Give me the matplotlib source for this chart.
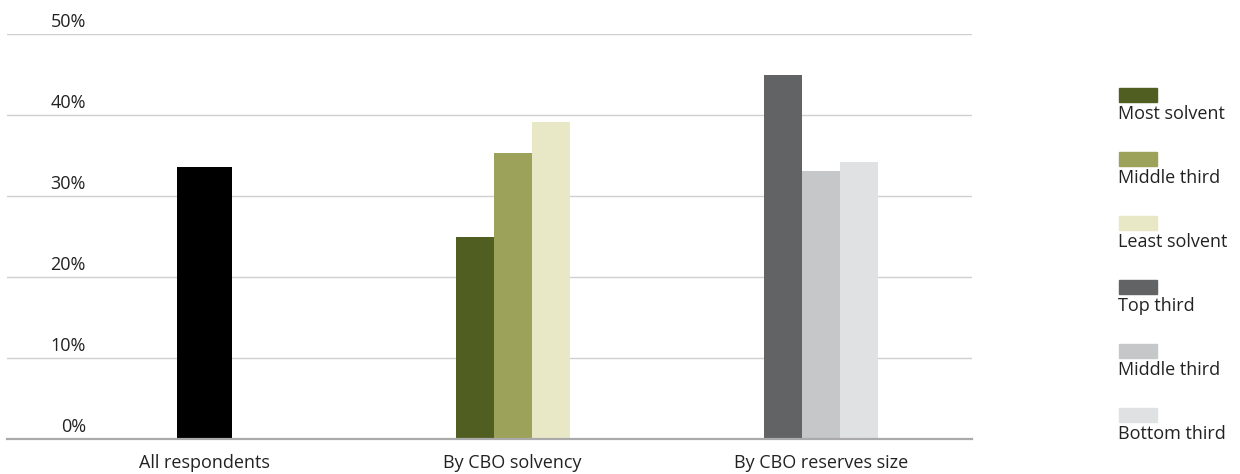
import numpy as np
import matplotlib.pyplot as plt
from matplotlib.patches import Rectangle
from matplotlib.transforms import blended_transform_factory

plt.rcParams['font.family'] = ['Open Sans', 'DejaVu Sans']

groups = ['All respondents', 'By CBO solvency', 'By CBO reserves size']
all_value = 33.6
solvency_labels = ['Most solvent', 'Middle third', 'Least solvent']
solvency_values = [24.9, 35.3, 39.1]
reserves_labels = ['Top third', 'Middle third', 'Bottom third']
reserves_values = [44.9, 33.1, 34.2]
yticks = [0, 10, 20, 30, 40, 50]

solvency_colors = ['#505e22', '#9da25a', '#e8e7c6']
reserves_colors = ['#626365', '#c6c7c9', '#e0e1e3']

fig = plt.figure(figsize=(12.4, 4.74), dpi=100)
ax = fig.add_axes([7 / 1240, 1 - 439 / 474, 965 / 1240, 405 / 474])

x = np.arange(len(groups))
w = 0.123
ax.bar(x[0], all_value, width=0.18, color='black', zorder=3)
for i, v in enumerate(solvency_values):
    ax.bar(x[1] + (i - 1) * w, v, width=w, color=solvency_colors[i], zorder=3)
for i, v in enumerate(reserves_values):
    ax.bar(x[2] + (i - 1) * w, v, width=w, color=reserves_colors[i], zorder=3)

ax.set_xlim(-0.64, 2.49)
ax.set_ylim(0, 50)
ax.set_yticks(yticks)
ax.yaxis.grid(True, color='#d0d0d0', linewidth=1.0, zorder=0)
ax.tick_params(axis='y', length=0, labelleft=False)
ax.tick_params(axis='x', length=0, pad=11, labelsize=13, labelcolor='#222222')
ax.set_xticks(x)
ax.set_xticklabels(groups)
for s in ['top', 'left', 'right']:
    ax.spines[s].set_visible(False)
ax.spines['bottom'].set_color('#aaaaaa')
ax.spines['bottom'].set_linewidth(1.6)
ax.spines['bottom'].set_zorder(4)

trans = blended_transform_factory(ax.transAxes, ax.transData)
for t in yticks:
    ax.text(79 / 965, t + 0.35, f'{t}%', transform=trans, ha='right', va='bottom',
            fontsize=13, color='#222222')

# legend: patch above label
leg_labels = solvency_labels + reserves_labels
leg_colors = solvency_colors + reserves_colors
for i, (lab, col) in enumerate(zip(leg_labels, leg_colors)):
    top = 88 + i * 64
    fig.add_artist(Rectangle((1119 / 1240, 1 - (top + 14) / 474), 38 / 1240, 14 / 474,
                             transform=fig.transFigure, color=col))
    fig.text(1118 / 1240, 1 - (top + 17) / 474, lab, ha='left', va='top',
             fontsize=13, color='#222222')

plt.savefig('out.png')
